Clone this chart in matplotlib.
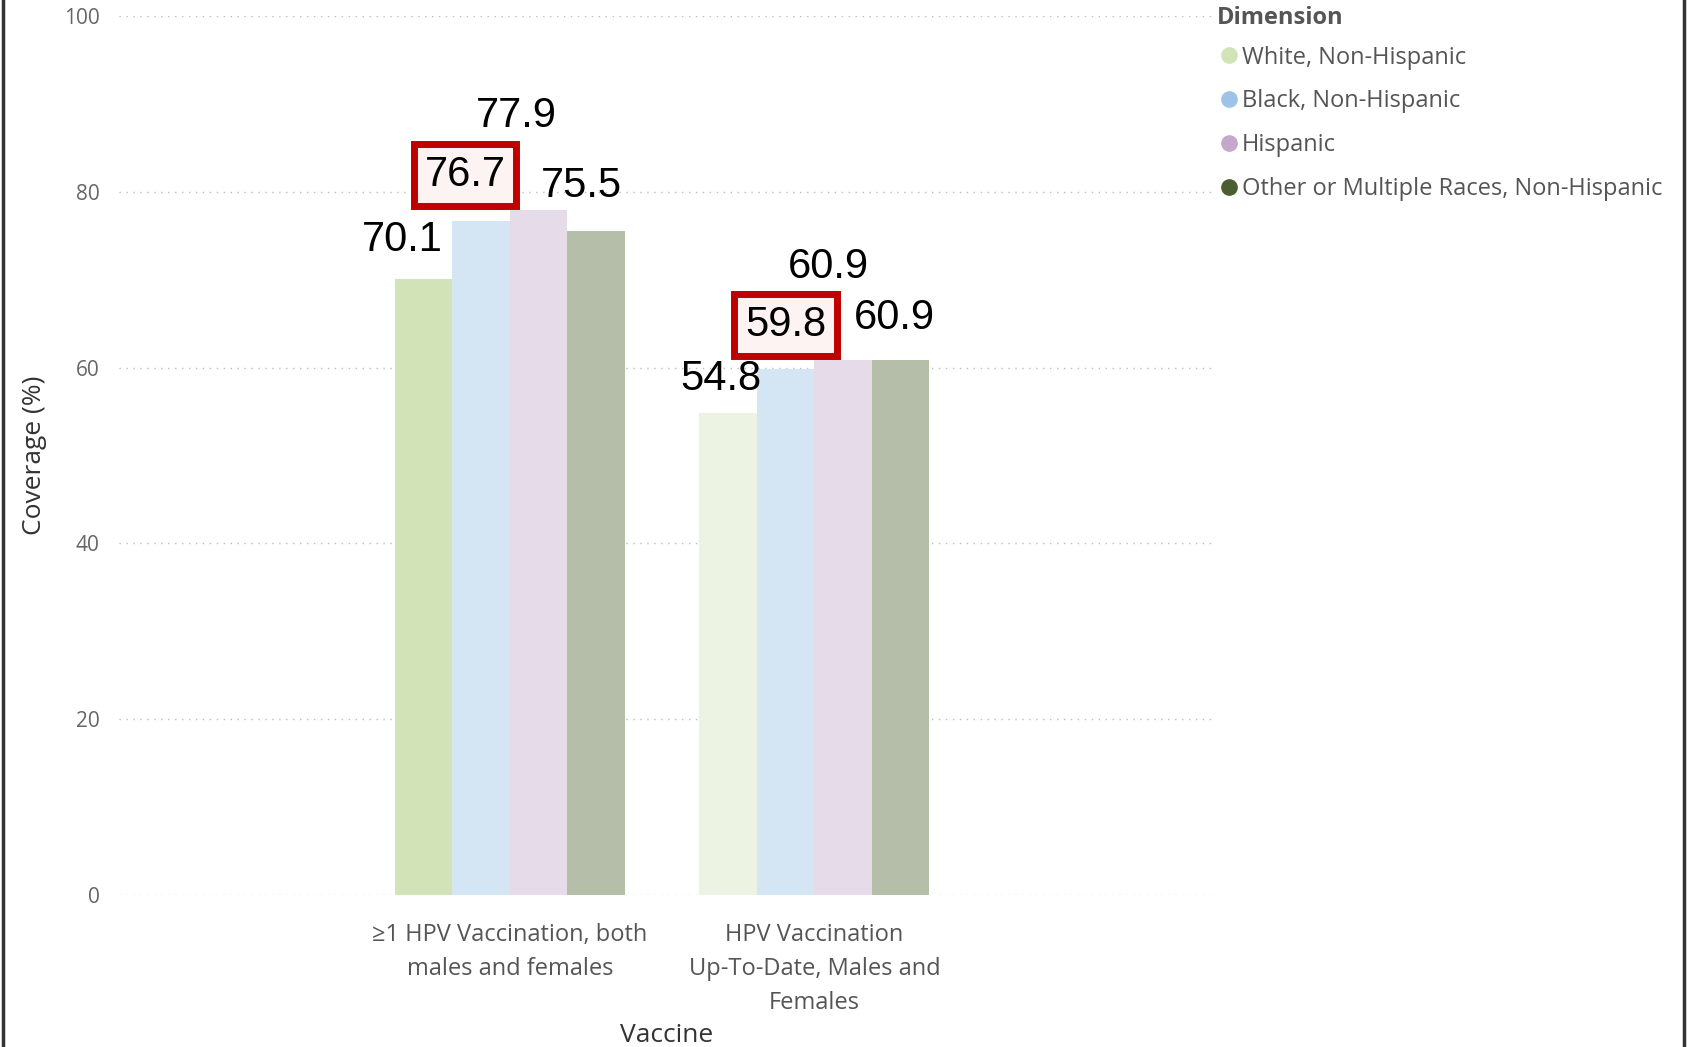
import matplotlib.pyplot as plt
import numpy as np
from matplotlib.lines import Line2D

# data
vaccines = ["≥1 HPV Vaccination, both\nmales and females",
            "HPV Vaccination\nUp-To-Date, Males and\nFemales"]
dimensions = ["White, Non-Hispanic", "Black, Non-Hispanic", "Hispanic",
              "Other or Multiple Races, Non-Hispanic"]
white_nh = [70.1, 54.8]
black_nh = [76.7, 59.8]
hispanic = [77.9, 60.9]
other_nh = [75.5, 60.9]
series = [white_nh, black_nh, hispanic, other_nh]

# styling
legend_colors = ["#d3e3b8", "#9dc3e6", "#c4a8cc", "#4a5e30"]
bar_colors = [["#d3e3b8", "#ecf3e3"], ["#d4e5f3", "#d4e5f3"],
              ["#e6dbe9", "#e6dbe9"], ["#b5bea9", "#b5bea9"]]
# label offsets in points (Power BI style staggered labels)
label_offsets = [[(-15.5, 28), (-5.4, 25)],
                 [(-11.7, 33), (0, 32)],
                 [(-16.3, 68), (-10.9, 67)],
                 [(-10.9, 33), (-4.7, 30)]]
boxed = (1,)  # Black, Non-Hispanic labels are highlighted

plt.rcParams['font.family'] = ['Open Sans', 'DejaVu Sans']

fig = plt.figure(figsize=(16.93, 10.47), dpi=100)
ax = fig.add_axes([0.0703, 0.1452, 0.7177 - 0.0703, 0.9847 - 0.1452])

x = np.arange(len(vaccines))
width = 0.189
for i, vals in enumerate(series):
    pos = x + (i - 1.5) * width
    bars = ax.bar(pos, vals, width, color=bar_colors[i], linewidth=0)
    for j, (px, v) in enumerate(zip(pos, vals)):
        kw = dict(fontsize=30, family=['Liberation Sans', 'DejaVu Sans'],
                  color='black', ha='center', va='center')
        if i in boxed:
            kw['bbox'] = dict(boxstyle='square,pad=0.26', facecolor='#fdf3f3',
                              edgecolor='#c00000', linewidth=5)
        ax.annotate(f"{v:.1f}", xy=(px, v), xytext=label_offsets[i][j],
                    textcoords='offset points', **kw)

ax.set_xlim(-1.284, 2.316)
ax.set_ylim(0, 100)
ax.set_yticks(range(0, 101, 20))
ax.yaxis.grid(True, linestyle=(0, (1, 4)), color='#bdbdbd', linewidth=1)
ax.set_axisbelow(True)
for s in ax.spines.values():
    s.set_visible(False)
ax.tick_params(axis='both', length=0)
ax.tick_params(axis='y', labelsize=15, labelcolor='#666666', pad=14)
ax.set_xticks(x)
ax.set_xticklabels(vaccines, fontsize=17, color='#555555', linespacing=1.55)
ax.tick_params(axis='x', pad=20)

ax.set_ylabel("Coverage (%)", fontsize=19, color='#333333', labelpad=12)
ax.set_xlabel("Vaccine", fontsize=19, color='#333333', labelpad=6)

# legend
handles = [Line2D([0], [0], marker='o', linestyle='', markersize=11,
                  markerfacecolor=c, markeredgecolor=c) for c in legend_colors]
leg = fig.legend(handles, dimensions, title="Dimension", loc='upper left',
                 bbox_to_anchor=(0.7065, 1.015), frameon=False, fontsize=17,
                 title_fontsize=17, handletextpad=0.05, handlelength=1.0,
                 labelspacing=0.84, labelcolor='#555555', alignment='left')
leg.get_title().set_fontweight('bold')
leg.get_title().set_color('#555555')
leg._legend_box.sep = 11.5

# screenshot frame edges
fig.add_artist(Line2D([0.002, 0.002], [0, 1], color='#333333', linewidth=2.5,
                      transform=fig.transFigure))
fig.add_artist(Line2D([0.9945, 0.9945], [0, 1], color='#333333', linewidth=2.5,
                      transform=fig.transFigure))

fig.savefig("out.png", dpi=100)
